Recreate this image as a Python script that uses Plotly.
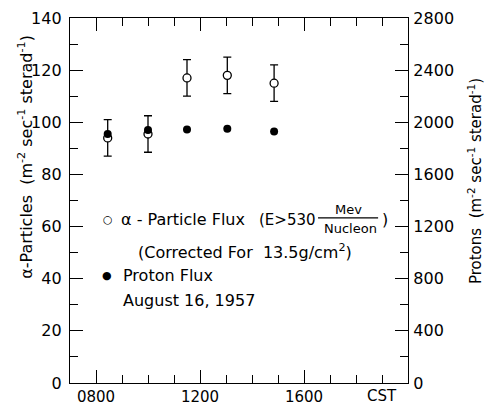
import plotly.graph_objects as go

# ---- data ----
times = [845, 1000, 1150, 1305, 1485]          # CST (hhmm as number)
alpha_flux = [94.0, 95.5, 117.0, 118.0, 115.0]  # m^-2 sec^-1 sterad^-1
alpha_err = [7.0, 7.0, 7.0, 7.0, 7.0]
proton_flux = [1910, 1940, 1945, 1950, 1930]    # m^-2 sec^-1 sterad^-1

x_tickvals = [800, 1200, 1600]
x_ticktext = ["0800", "1200", "1600"]

FONT = "DejaVu Sans"
TICKFONT = dict(family=FONT, size=16, color="black")
XTICKFONT = dict(family=FONT, size=15, color="black")

fig = go.Figure()

fig.add_trace(go.Scatter(
    x=times, y=alpha_flux, mode="markers",
    marker=dict(symbol="circle", size=8, color="white",
                line=dict(color="black", width=1.3)),
    error_y=dict(type="data", array=alpha_err, visible=True,
                 color="black", thickness=1.3, width=4),
    showlegend=False, yaxis="y",
))

fig.add_trace(go.Scatter(
    x=times, y=proton_flux, mode="markers",
    marker=dict(symbol="circle", size=8, color="black"),
    showlegend=False, yaxis="y2",
))

axis_common = dict(
    showgrid=False, zeroline=False, showline=True, linecolor="black",
    linewidth=1.3, ticks="inside", ticklen=13, tickwidth=1.3,
    tickcolor="black",
)

fig.update_layout(
    width=486, height=406,
    margin=dict(l=70, r=78, t=18, b=23, autoexpand=False),
    paper_bgcolor="white", plot_bgcolor="white",
    xaxis=dict(
        range=[700, 2000], tickmode="array", tickvals=x_tickvals,
        ticktext=x_ticktext, mirror="ticks", ticklabelstandoff=0,
        tickfont=XTICKFONT,
        minor=dict(tickmode="linear", tick0=700, dtick=100, ticks="inside",
                   ticklen=8, tickwidth=1.3, tickcolor="black"),
        **axis_common,
    ),
    yaxis=dict(
        range=[0, 140], tickmode="linear", tick0=0, dtick=20,
        ticklabelstandoff=4, tickfont=TICKFONT,
        minor=dict(dtick=10, ticks="inside", ticklen=8, tickwidth=1.3,
                   tickcolor="black"),
        **axis_common,
    ),
    yaxis2=dict(
        range=[0, 2800], tickmode="linear", tick0=0, dtick=400,
        overlaying="y", side="right", ticklabelstandoff=1, tickfont=TICKFONT,
        minor=dict(dtick=200, ticks="inside", ticklen=8, tickwidth=1.3,
                   tickcolor="black"),
        **axis_common,
    ),
)

txt = dict(family=FONT, size=16, color="black")
ann = []
# axis titles
ann.append(dict(text="α-Particles  (m<sup>-2</sup> sec<sup>-1</sup> sterad<sup>-1</sup>)",
                textangle=-90, xref="paper", yref="paper", x=-0.13, y=0.62,
                xanchor="center", yanchor="middle", showarrow=False,
                font=dict(family=FONT, size=16, color="black")))
ann.append(dict(text="Protons  (m<sup>-2</sup> sec<sup>-1</sup> sterad<sup>-1</sup>)",
                textangle=-90, xref="paper", yref="paper", x=1.198, y=0.553,
                xanchor="center", yanchor="middle", showarrow=False,
                font=dict(family=FONT, size=15, color="black")))
# CST label
ann.append(dict(text="CST", xref="x", yref="paper", x=1900, y=-0.036,
                xanchor="center", yanchor="middle", showarrow=False,
                font=XTICKFONT))
# in-plot key
ann.append(dict(text="○", xref="x", yref="y", x=846, y=62.9,
                xanchor="center", yanchor="middle", showarrow=False,
                font=dict(family=FONT, size=11, color="black")))
ann.append(dict(text="α - Particle Flux", xref="x", yref="y", x=888, y=62.7,
                xanchor="left", yanchor="middle", showarrow=False, font=txt))
ann.append(dict(text="(E>530", xref="x", yref="y", x=1420, y=62.7,
                xanchor="left", yanchor="middle", showarrow=False,
                font=dict(family=FONT, size=15, color="black")))
ann.append(dict(text="Mev", xref="x", yref="y", x=1770, y=66.6,
                xanchor="center", yanchor="middle", showarrow=False,
                font=dict(family=FONT, size=13, color="black")))
ann.append(dict(text="Nucleon", xref="x", yref="y", x=1777, y=59.4,
                xanchor="center", yanchor="middle", showarrow=False,
                font=dict(family=FONT, size=13, color="black")))
ann.append(dict(text=")", xref="x", yref="y", x=1912, y=62.9,
                xanchor="center", yanchor="middle", showarrow=False, font=txt))
ann.append(dict(text="(Corrected For  13.5g/cm<sup>2</sup>)", xref="x", yref="y",
                x=954, y=50.6, xanchor="left", yanchor="middle",
                showarrow=False, font=txt))
ann.append(dict(text="●", xref="x", yref="y", x=842, y=41.4,
                xanchor="center", yanchor="middle", showarrow=False,
                font=dict(family=FONT, size=11, color="black")))
ann.append(dict(text="Proton Flux", xref="x", yref="y", x=896, y=41.4,
                xanchor="left", yanchor="middle", showarrow=False, font=txt))
ann.append(dict(text="August 16, 1957", xref="x", yref="y", x=896, y=31.8,
                xanchor="left", yanchor="middle", showarrow=False, font=txt))
fig.update_layout(annotations=ann)

# fraction bar
fig.add_shape(type="line", xref="x", yref="y", x0=1654, x1=1885, y0=63.3, y1=63.3,
              line=dict(color="black", width=1.2))

fig.write_html("out.html",
               config={"displayModeBar": False},
               post_script="document.body.style.margin='0';"
                           "document.body.style.overflow='hidden';")
